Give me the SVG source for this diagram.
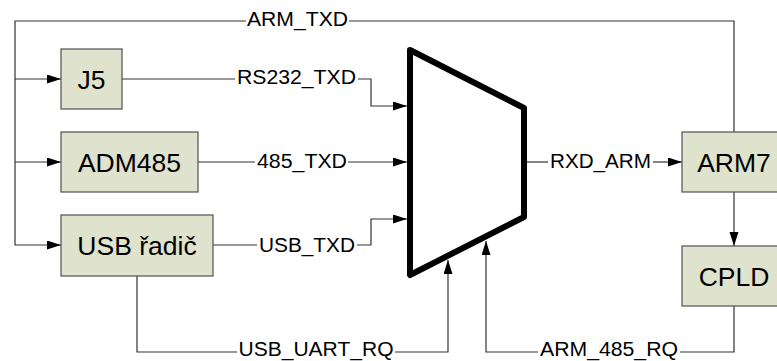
<svg xmlns="http://www.w3.org/2000/svg" width="777" height="361" viewBox="0 0 777 361">
<style>
.box{fill:#dfe2cc;stroke:#505050;stroke-width:1.2}
.bt{font-family:"Liberation Sans",Arial,sans-serif;font-size:26.5px;fill:#000;text-anchor:middle}
.lb{font-family:"Liberation Sans",Arial,sans-serif;font-size:20.5px;fill:#000}
.ln{fill:none;stroke:#333;stroke-width:1.2}
</style>
<defs>
<marker id="ah" markerUnits="userSpaceOnUse" markerWidth="15" markerHeight="10" refX="14" refY="4.5" orient="auto">
<path d="M0,0 L14,4.5 L0,9 z" fill="#000"/>
</marker>
</defs>
<rect width="777" height="361" fill="#fff"/>
<g id="connectors">
<path class="ln" d="M734,132 V21 H349"/>
<path class="ln" d="M246,21 H15 V245 H61" marker-end="url(#ah)"/>
<path class="ln" d="M15,79 H61" marker-end="url(#ah)"/>
<path class="ln" d="M15,162 H61" marker-end="url(#ah)"/>
<path class="ln" d="M122,79 H235"/>
<path class="ln" d="M358,79 H371 V106 H407" marker-end="url(#ah)"/>
<path class="ln" d="M198,162 H255"/>
<path class="ln" d="M348,162 H407" marker-end="url(#ah)"/>
<path class="ln" d="M213,245 H257"/>
<path class="ln" d="M357,245 H371 V219 H407" marker-end="url(#ah)"/>
<path class="ln" d="M527,162 H548"/>
<path class="ln" d="M653,162 H682" marker-end="url(#ah)"/>
<path class="ln" d="M734,192 V246" marker-end="url(#ah)"/>
<path class="ln" d="M137,276 V352 H237"/>
<path class="ln" d="M395,352 H448 V260" marker-end="url(#ah)"/>
<path class="ln" d="M734,306 V352 H680"/>
<path class="ln" d="M538,352 H486 V241" marker-end="url(#ah)"/>
<text class="lb" x="247" y="25.5" textLength="101" lengthAdjust="spacingAndGlyphs">ARM_TXD</text>
<text class="lb" x="237" y="83.5" textLength="119" lengthAdjust="spacingAndGlyphs">RS232_TXD</text>
<text class="lb" x="257" y="168" textLength="90" lengthAdjust="spacingAndGlyphs">485_TXD</text>
<text class="lb" x="259" y="251.5" textLength="96" lengthAdjust="spacingAndGlyphs">USB_TXD</text>
<text class="lb" x="550" y="167.5" textLength="101" lengthAdjust="spacingAndGlyphs">RXD_ARM</text>
<text class="lb" x="238.5" y="356" textLength="155" lengthAdjust="spacingAndGlyphs">USB_UART_RQ</text>
<text class="lb" x="540" y="356" textLength="138" lengthAdjust="spacingAndGlyphs">ARM_485_RQ</text>
</g>
<g id="mux">
<polygon points="410,50 524,108 524,217 410,275" fill="#fff" stroke="#000" stroke-width="6" stroke-linejoin="round"/>
</g>
<g id="j5">
<rect class="box" x="61" y="49" width="61" height="60"/>
<text class="bt" x="91.5" y="88.5">J5</text>
</g>
<g id="adm485">
<rect class="box" x="61" y="132" width="137" height="60"/>
<text class="bt" x="129.5" y="171.5">ADM485</text>
</g>
<g id="usb">
<rect class="box" x="61" y="215" width="152" height="61"/>
<text class="bt" x="137" y="254.5">USB řadič</text>
</g>
<g id="arm7">
<rect class="box" x="682" y="132" width="104" height="60"/>
<text class="bt" x="734" y="171.5">ARM7</text>
</g>
<g id="cpld">
<rect class="box" x="682" y="246" width="104" height="60"/>
<text class="bt" x="734" y="285.5">CPLD</text>
</g>
</svg>
